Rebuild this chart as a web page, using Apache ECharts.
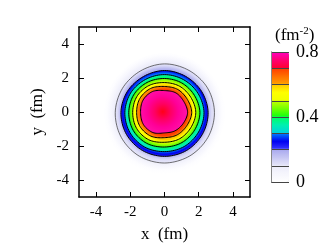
<!DOCTYPE html>
<html><head><meta charset="utf-8">
<script src="https://cdn.jsdelivr.net/npm/echarts@6/dist/echarts.min.js"></script>
<style>html,body{margin:0;padding:0;background:#fff}#c{width:327px;height:248px}</style>
</head><body><div id="c"></div>
<script>
// ---- data ----
const xTicks = [-4, -2, 0, 2, 4];
const yTicks = [-4, -2, 0, 2, 4];
const cbTicks = [0, 0.4, 0.8];
const contourLevels = [0.0, 0.1, 0.2, 0.3, 0.4, 0.5, 0.6, 0.7];
const anglesDeg = [0, 30, 60, 90, 120, 150, 180, 210, 240, 270, 300, 330];
// contour radius (fm) at each angle, measured from the distribution centre
const r000 = [3.55, 3.52, 3.50, 3.50, 3.48, 3.50, 3.53, 3.56, 3.60, 3.62, 3.60, 3.57];
const r010 = [2.92, 2.90, 2.86, 2.86, 2.82, 2.84, 2.88, 2.92, 2.96, 2.97, 2.95, 2.93];
const r020 = [2.55, 2.50, 2.46, 2.47, 2.45, 2.50, 2.55, 2.57, 2.58, 2.58, 2.58, 2.56];
const r030 = [2.31, 2.26, 2.23, 2.23, 2.24, 2.29, 2.32, 2.34, 2.34, 2.30, 2.31, 2.30];
const r040 = [2.07, 2.02, 2.01, 2.00, 2.04, 2.08, 2.09, 2.11, 2.09, 2.03, 2.04, 2.04];
const r050 = [1.83, 1.78, 1.78, 1.76, 1.83, 1.87, 1.86, 1.88, 1.85, 1.75, 1.78, 1.78];
const r060 = [1.59, 1.54, 1.56, 1.53, 1.63, 1.66, 1.63, 1.65, 1.60, 1.48, 1.51, 1.52];
const r070 = [1.35, 1.30, 1.33, 1.29, 1.42, 1.45, 1.40, 1.42, 1.36, 1.20, 1.24, 1.27];
const centerXY = [0.0, -0.03];
const peakXY = [-0.1, 0.02];

// ---- styling ----
const contourRadii = [r000, r010, r020, r030, r040, r050, r060, r070];
const bandColors = [
  ['#ffffff', '#fdfdff', '#f6f6fd', '#ededfa'],
  ['#e8e8f9', '#dadaf6', '#b0b0ef'],
  ['#2c2cf8', '#0000ee', '#0070ff'],
  ['#00c8ec', '#00f0b0', '#00ff60'],
  ['#10ff10', '#70ff00', '#c4ff00'],
  ['#f0ff00', '#ffff00', '#ffc800'],
  ['#ffa000', '#ff7000', '#ff3c00'],
  ['#ff10a8', '#ff0098', '#ff0060', '#ff0018']
];
const paletteStops = [
  [0, '#ffffff'], [0.1, '#ececfa'], [0.1001, '#e6e6f8'], [0.2, '#a8a8ee'],
  [0.2001, '#3a3aff'], [0.25, '#0000f0'], [0.3, '#0080ff'], [0.3001, '#00d0e0'],
  [0.35, '#00f0b0'], [0.4, '#00ff60'], [0.4001, '#10ff10'], [0.45, '#70ff00'],
  [0.5, '#c4ff00'], [0.5001, '#f0ff00'], [0.55, '#ffff00'], [0.6, '#ffc800'],
  [0.6001, '#ffa000'], [0.65, '#ff7000'], [0.7, '#ff3c00'], [0.7001, '#ff0030'],
  [0.75, '#ff0070'], [0.8, '#ff00c0']
];
function hex2rgb(h) { return [1, 3, 5].map(i => parseInt(h.substr(i, 2), 16)); }
function paletteAt(v) {
  for (let i = 1; i < paletteStops.length; i++) {
    const [v0, c0] = paletteStops[i - 1], [v1, c1] = paletteStops[i];
    if (v <= v1) {
      const t = (v - v0) / (v1 - v0), a = hex2rgb(c0), b = hex2rgb(c1);
      return 'rgb(' + a.map((x, j) => Math.round(x + (b[j] - x) * t)).join(',') + ')';
    }
  }
  return paletteStops[paletteStops.length - 1][1];
}
const barColors = [];
for (let i = 0; i <= 320; i++) barColors.push(paletteAt(0.8 * i / 320));

const FONT = 'Liberation Serif';
const mean = a => a.reduce((s, v) => s + v, 0) / a.length;

// closed Catmull-Rom curve through the contour points (drawing only)
function smoothClosed(P, steps) {
  const out = [], n = P.length;
  for (let i = 0; i < n; i++) {
    const p0 = P[(i - 1 + n) % n], p1 = P[i], p2 = P[(i + 1) % n], p3 = P[(i + 2) % n];
    for (let s = 0; s < steps; s++) {
      const t = s / steps, t2 = t * t, t3 = t2 * t;
      out.push([0, 1].map(d => 0.5 * ((2 * p1[d]) + (-p0[d] + p2[d]) * t +
        (2 * p0[d] - 5 * p1[d] + 4 * p2[d] - p3[d]) * t2 + (-p0[d] + 3 * p1[d] - 3 * p2[d] + p3[d]) * t3)));
    }
  }
  return out;
}

function renderContour(params, api) {
  const k = params.dataIndex;
  const cx = api.value(0), cy = api.value(1);
  const rs = contourRadii[k];
  const pts = anglesDeg.map((a, i) => {
    const t = a * Math.PI / 180;
    return api.coord([cx + rs[i] * Math.cos(t), cy + rs[i] * Math.sin(t)]);
  });
  const isPeak = k === contourRadii.length - 1;
  const gc = api.coord(isPeak ? peakXY : [cx, cy]);
  const rOut = mean(rs) * 1.02;
  const rIn = isPeak ? 0 : mean(contourRadii[k + 1]);
  const rPx = api.size([rOut, 0])[0];
  const f = rIn / rOut;
  const cols = bandColors[k];
  const n = cols.length;
  const stops = cols.map((c, j) => ({ offset: 1 - (1 - f) * j / (n - 1), color: c })).reverse();
  const grad = new echarts.graphic.RadialGradient(gc[0], gc[1], rPx, stops, true);
  const lv = api.value(2);
  return {
    type: 'polygon',
    shape: { points: smoothClosed(pts, 10) },
    style: {
      fill: grad,
      stroke: lv === 0 ? null : (lv < 0.15 ? '#333' : '#000'),
      lineWidth: lv < 0.15 ? 0.7 : 1
    }
  };
}

const axisText = { fontFamily: FONT, fontSize: 15, color: '#000' };
const frameLine = { show: true, onZero: false, lineStyle: { color: '#000', width: 1.5 } };

const option = {
  backgroundColor: '#fff',
  animation: false,
  grid: [
    { left: 79, top: 27, width: 171, height: 170 },
    { left: 271, top: 52, width: 18, height: 130 }
  ],
  xAxis: [
    { gridIndex: 0, type: 'value', min: -5, max: 5, position: 'bottom', axisLine: frameLine,
      axisTick: { inside: true, length: 5, customValues: xTicks, lineStyle: { color: '#000' } },
      axisLabel: Object.assign({ customValues: xTicks, margin: 8 }, axisText),
      splitLine: { show: false },
      name: 'x  (fm)', nameLocation: 'middle', nameGap: 29,
      nameTextStyle: { fontFamily: FONT, fontSize: 17, color: '#000' } },
    { gridIndex: 0, type: 'value', min: -5, max: 5, position: 'top', axisLine: frameLine,
      axisTick: { inside: true, length: 5, customValues: xTicks, lineStyle: { color: '#000' } },
      axisLabel: { show: false }, splitLine: { show: false } },
    { gridIndex: 1, type: 'value', min: 0, max: 1, show: false }
  ],
  yAxis: [
    { gridIndex: 0, type: 'value', min: -5, max: 5, position: 'left', axisLine: frameLine,
      axisTick: { inside: true, length: 5, customValues: yTicks, lineStyle: { color: '#000' } },
      axisLabel: Object.assign({ customValues: yTicks, margin: 10 }, axisText),
      splitLine: { show: false },
      name: 'y  (fm)', nameLocation: 'middle', nameGap: 26,
      nameTextStyle: { fontFamily: FONT, fontSize: 17, color: '#000' } },
    { gridIndex: 0, type: 'value', min: -5, max: 5, position: 'right', axisLine: frameLine,
      axisTick: { inside: true, length: 5, customValues: yTicks, lineStyle: { color: '#000' } },
      axisLabel: { show: false }, splitLine: { show: false } },
    { gridIndex: 1, type: 'value', min: 0, max: 0.8, interval: 0.1, position: 'right', z: 10,
      axisLine: { show: true, lineStyle: { color: '#888', width: 1 } },
      axisTick: { show: false },
      axisLabel: { customValues: cbTicks, margin: 7, fontFamily: FONT, fontSize: 18, color: '#000' },
      splitLine: { show: true, lineStyle: { color: '#444', width: 1 } } },
    { gridIndex: 1, type: 'value', min: 0, max: 0.8, position: 'left', z: 10,
      axisLine: { show: true, lineStyle: { color: '#888', width: 1 } },
      axisTick: { show: false }, axisLabel: { show: false }, splitLine: { show: false } }
  ],
  visualMap: [{
    type: 'continuous', seriesIndex: [], min: 0, max: 0.8,
    calculable: false, orient: 'vertical', left: 271, top: 52, itemWidth: 18, itemHeight: 130,
    padding: 0, z: 1, hoverLink: false, inRange: { color: barColors }
  }],
  graphic: [{
    type: 'text', left: 275, top: 26, z: 20,
    style: {
      text: '{a|(fm}{s|-2}{a|)}',
      rich: {
        a: { fontFamily: FONT, fontSize: 17, lineHeight: 18, fill: '#000', verticalAlign: 'bottom' },
        s: { fontFamily: FONT, fontSize: 11, lineHeight: 18, fill: '#000', verticalAlign: 'top' }
      }
    }
  }],
  series: [{
    type: 'custom', xAxisIndex: 0, yAxisIndex: 0, coordinateSystem: 'cartesian2d',
    clip: true, silent: true,
    renderItem: renderContour,
    encode: { x: 0, y: 1 },
    data: contourLevels.map(lv => [centerXY[0], centerXY[1], lv])
  }]
};
const chart = echarts.init(document.getElementById('c'), null, { renderer: 'canvas' });
chart.setOption(option);
</script></body></html>
